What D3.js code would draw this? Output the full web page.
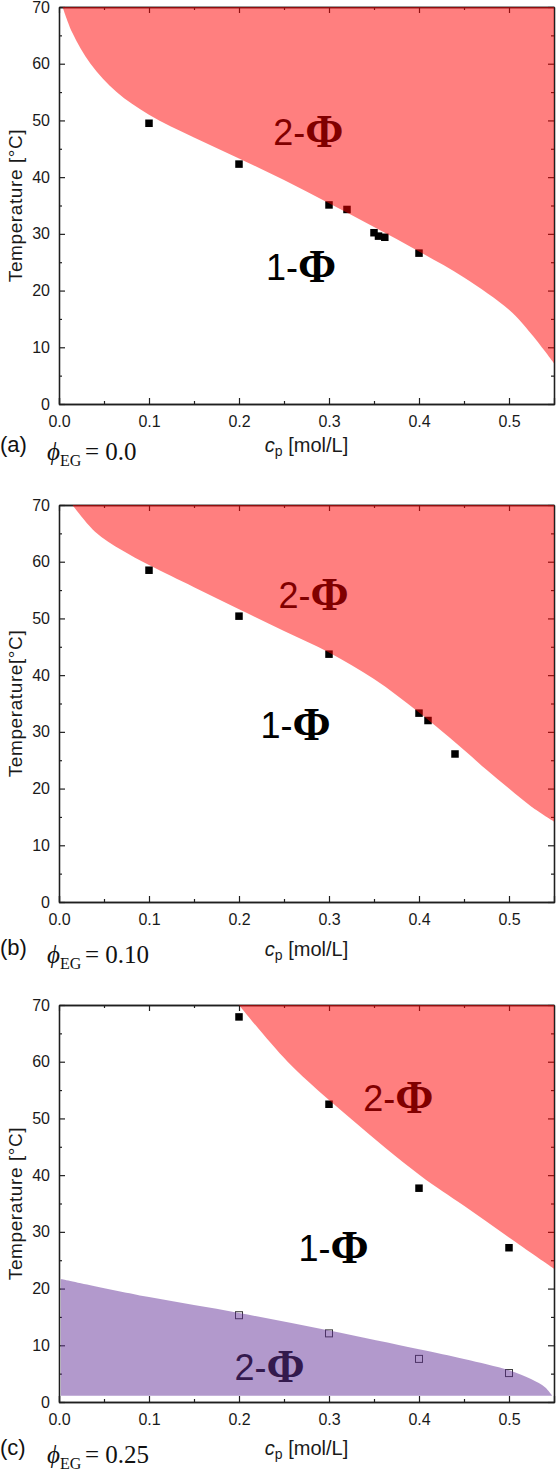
<!DOCTYPE html>
<html><head><meta charset="utf-8">
<script src="https://cdn.jsdelivr.net/npm/d3@7"></script>
<style>body{margin:0;background:#fff}svg{display:block}</style>
</head><body>
<svg id="chart" width="556" height="1472"></svg>
<script>
// ---------- data ----------
const xMajor = [0, 0.1, 0.2, 0.3, 0.4, 0.5];
const xTickLabels = ["0.0", "0.1", "0.2", "0.3", "0.4", "0.5"];
const xMinor = [0.05, 0.15, 0.25, 0.35, 0.45];
const yMajor = [0, 10, 20, 30, 40, 50, 60, 70];
const yTickLabels = ["0", "10", "20", "30", "40", "50", "60", "70"];
const yMinor = [5, 15, 25, 35, 45, 55, 65];

// panel (a) phi_EG = 0.0
const aPointC = [0.1, 0.2, 0.3, 0.32, 0.35, 0.355, 0.362, 0.4];
const aPointT = [49.5, 42.3, 35.1, 34.3, 30.2, 29.6, 29.4, 26.6];
const aRedC = [0.004, 0.015, 0.035, 0.064, 0.1, 0.15, 0.2, 0.25, 0.3, 0.35, 0.4, 0.45, 0.5, 0.525, 0.55];
const aRedT = [70, 65.4, 60, 55, 51.0, 47.0, 43.3, 39.5, 35.4, 31.2, 26.9, 22.3, 16.6, 12.3, 7.2];

// panel (b) phi_EG = 0.10
const bPointC = [0.1, 0.2, 0.3, 0.4, 0.41, 0.44];
const bPointT = [58.5, 50.4, 43.7, 33.3, 32.0, 26.1];
const bRedC = [0.015, 0.04, 0.07, 0.1, 0.15, 0.2, 0.25, 0.3, 0.35, 0.4, 0.45, 0.475, 0.5, 0.525, 0.55];
const bRedT = [70, 65.3, 62.0, 59.4, 55.5, 51.6, 47.8, 44.0, 39.3, 33.4, 26.8, 23.3, 20.0, 16.8, 14.2];

// panel (c) phi_EG = 0.25
const cPointC = [0.2, 0.3, 0.4, 0.5];
const cPointT = [67.9, 52.5, 37.7, 27.2];
const cOpenC = [0.2, 0.3, 0.4, 0.5];
const cOpenT = [15.3, 12.1, 7.6, 5.1];
const cRedC = [0.2, 0.254, 0.324, 0.401, 0.45, 0.5, 0.55];
const cRedT = [70, 60, 50, 40, 34.6, 29.0, 23.5];
const cPurpleC = [0.002, 0.1, 0.2, 0.3, 0.4, 0.45, 0.5, 0.525, 0.54, 0.548];
const cPurpleT = [21.7, 18.5, 15.7, 12.6, 9.3, 7.6, 5.6, 4.0, 2.6, 1.1];
const cPurpleBase = 1.1;

// ---------- layout ----------
const svg = d3.select("#chart");
const x = d3.scaleLinear().domain([0, 0.55]).range([59, 554]);
const PH = 397;
const SANS = "'Liberation Sans', Arial, sans-serif";
const SERIF = "'Liberation Serif', 'Times New Roman', serif";
const AX = "#1f1f1f";

const panels = [
  { top: 7, letter: "(a)", phi: "= 0.0", ylab: "Temperature [\u00B0C]", subBase: 56, cpBase: 48,
    points: [aPointC, aPointT], open: null,
    fills: [{ c: aRedC, t: aRedT, base: 70, color: "rgba(255,0,0,0.5)" }],
    labels: [{ txt: "2-", c: 0.238, T: 45.7 }, { txt: "1-", c: 0.23, T: 21.9 }] },
  { top: 505, letter: "(b)", phi: "= 0.10", ylab: "Temperature[\u00B0C]", subBase: 61, cpBase: 54,
    points: [bPointC, bPointT], open: null,
    fills: [{ c: bRedC, t: bRedT, base: 70, color: "rgba(255,0,0,0.5)" }],
    labels: [{ txt: "2-", c: 0.244, T: 51.8 }, { txt: "1-", c: 0.224, T: 28.9 }] },
  { top: 1005, letter: "(c)", phi: "= 0.25", ylab: "Temperature [\u00B0C]", subBase: 61, cpBase: 53,
    points: [cPointC, cPointT], open: [cOpenC, cOpenT],
    fills: [{ c: cRedC, t: cRedT, base: 70, color: "rgba(255,0,0,0.5)" },
            { c: cPurpleC, t: cPurpleT, base: cPurpleBase, color: "rgba(102,51,153,0.5)" }],
    labels: [{ txt: "2-", c: 0.338, T: 51.3 }, { txt: "1-", c: 0.266, T: 24.9 }, { txt: "2-", c: 0.195, T: 3.9 }] }
];

panels.forEach(p => {
  const t = p.top;
  const y = d3.scaleLinear().domain([0, 70]).range([t + PH, t]);
  const g = svg.append("g");

  // axes (ticks inward)
  const styleAxis = sel => {
    sel.select(".domain").attr("stroke", AX).attr("stroke-width", 1.3);
    sel.selectAll(".tick line").attr("stroke", AX).attr("stroke-width", 1.2);
    sel.selectAll("text").attr("font-family", SANS).attr("font-size", 16).attr("fill", "#1a1a1a");
  };
  g.append("g").attr("transform", `translate(0,${t + PH})`)
    .call(d3.axisBottom(x).tickValues(xMajor).tickFormat((d, i) => xTickLabels[i]).tickSize(-6).tickPadding(12))
    .call(styleAxis);
  g.append("g").attr("transform", `translate(0,${t + PH})`)
    .call(d3.axisBottom(x).tickValues(xMinor).tickFormat("").tickSize(-3).tickSizeOuter(0)).call(styleAxis);
  g.append("g").attr("transform", `translate(0,${t})`)
    .call(d3.axisTop(x).tickValues(xMajor).tickFormat("").tickSize(-6).tickSizeOuter(0)).call(styleAxis);
  g.append("g").attr("transform", `translate(0,${t})`)
    .call(d3.axisTop(x).tickValues(xMinor).tickFormat("").tickSize(-3).tickSizeOuter(0)).call(styleAxis);
  g.append("g").attr("transform", `translate(${x(0)},0)`)
    .call(d3.axisLeft(y).tickValues(yMajor).tickFormat((d, i) => yTickLabels[i]).tickSize(-6).tickSizeOuter(0).tickPadding(9))
    .call(styleAxis);
  g.append("g").attr("transform", `translate(${x(0)},0)`)
    .call(d3.axisLeft(y).tickValues(yMinor).tickFormat("").tickSize(-3).tickSizeOuter(0)).call(styleAxis);
  g.append("g").attr("transform", `translate(${x(0.55)},0)`)
    .call(d3.axisRight(y).tickValues(yMajor).tickFormat("").tickSize(-6).tickSizeOuter(0)).call(styleAxis);
  g.append("g").attr("transform", `translate(${x(0.55)},0)`)
    .call(d3.axisRight(y).tickValues(yMinor).tickFormat("").tickSize(-3).tickSizeOuter(0)).call(styleAxis);

  // solid squares
  const S = 7.5;
  const pts = p.points[0].map((c, i) => [c, p.points[1][i]]);
  g.selectAll(".sq").data(pts).join("rect")
    .attr("x", d => x(d[0]) - S / 2).attr("y", d => y(d[1]) - S / 2)
    .attr("width", S).attr("height", S).attr("fill", "#000");
  if (p.open) {
    const op = p.open[0].map((c, i) => [c, p.open[1][i]]);
    g.selectAll(".osq").data(op).join("rect")
      .attr("x", d => x(d[0]) - 3.5).attr("y", d => y(d[1]) - 3.5)
      .attr("width", 7).attr("height", 7).attr("fill", "none").attr("stroke", "#333").attr("stroke-width", 1);
  }

  // phase labels
  p.labels.forEach(l => {
    const tx = g.append("text").attr("x", x(l.c)).attr("y", y(l.T)).attr("fill", "#000");
    tx.append("tspan").attr("font-family", SANS).attr("font-size", 36).text(l.txt);
    tx.append("tspan").attr("font-family", SERIF).attr("font-weight", "bold").attr("font-size", 46).attr("dy", 2).text("\u03A6");
  });

  // translucent phase regions drawn on top
  p.fills.forEach(f => {
    const data = f.c.map((c, i) => [c, f.t[i]]);
    const area = d3.area().x(d => x(d[0])).y0(y(f.base)).y1(d => y(d[1])).curve(d3.curveCatmullRom.alpha(0.5));
    g.append("path").attr("d", area(data)).attr("fill", f.color).attr("stroke", "none");
  });

  // y label
  const cy = t + PH / 2;
  g.append("text").attr("transform", `translate(22,${cy}) rotate(-90)`)
    .attr("text-anchor", "middle").attr("font-family", SANS).attr("font-size", 19)
    .attr("letter-spacing", 0.6).attr("fill", "#1a1a1a").text(p.ylab);

  // x label
  const xl = g.append("text").attr("x", (x(0) + x(0.55)) / 2).attr("y", t + PH + p.cpBase)
    .attr("text-anchor", "middle").attr("font-family", SANS).attr("font-size", 20).attr("fill", "#1a1a1a");
  xl.append("tspan").attr("font-style", "italic").text("c");
  xl.append("tspan").attr("font-size", 14).attr("dy", 4).text("p");
  xl.append("tspan").attr("dy", -4).text(" [mol/L]");

  // subtitle
  const sb = t + PH + p.subBase;
  g.append("text").attr("x", 0).attr("y", sb - 8).attr("font-family", SANS).attr("font-size", 22)
    .attr("fill", "#111").text(p.letter);
  g.append("text").attr("x", 47).attr("y", sb).attr("font-family", SERIF).attr("font-style", "italic")
    .attr("font-size", 25).attr("fill", "#111").text("\u03D5");
  g.append("text").attr("x", 60).attr("y", sb + 6).attr("font-family", SERIF)
    .attr("font-size", 16).attr("fill", "#111").text("EG");
  g.append("text").attr("x", 85).attr("y", sb).attr("font-family", SERIF)
    .attr("font-size", 25).attr("fill", "#111").text(p.phi);
});
</script>
</body></html>
